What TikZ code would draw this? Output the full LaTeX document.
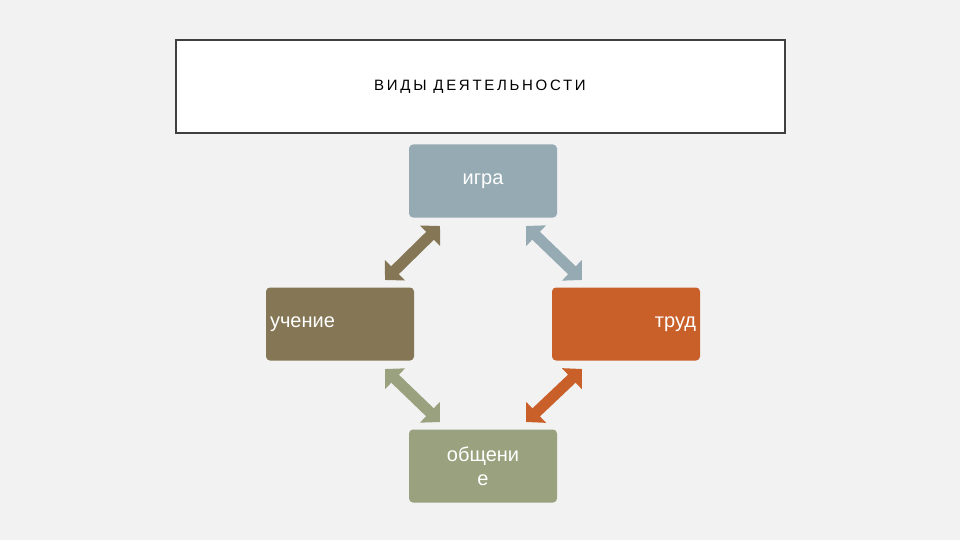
\documentclass[tikz,border=0pt]{standalone}
\usepackage{fontspec}
\setmainfont{Liberation Sans}
\usetikzlibrary{arrows.meta}
\definecolor{bg}{HTML}{F2F2F2}
\definecolor{cblue}{HTML}{95AAB3}
\definecolor{cbrown}{HTML}{857755}
\definecolor{corange}{HTML}{C9602A}
\definecolor{cgreen}{HTML}{9AA17E}
\begin{document}
\begin{tikzpicture}[x=1pt,y=-1pt,
  box/.style={rounded corners=4pt,minimum width=148pt,minimum height=73pt,inner sep=2pt,text=white,font=\fontsize{20}{24}\selectfont,align=center,text width=140pt},
  dbl/.style={line width=11pt,{Triangle[length=14pt,width=28pt]}-{Triangle[length=14pt,width=28pt]},shorten <=0pt,shorten >=0pt}]
\fill[bg] (0,0) rectangle (960,540);
\useasboundingbox (0,0) rectangle (960,540);
\node[draw=black!75,line width=2pt,fill=white,minimum width=609pt,minimum height=93pt] (title) at (480,87) {};
\node (tt) at (480,87) {\fontsize{15}{18}\selectfont\addfontfeature{LetterSpace=18}ВИДЫ ДЕЯТЕЛЬНОСТИ};
\node[box,fill=cblue] (igra) at (483,181) {игра};
\node[box,fill=cbrown,align=left] (uch) at (340,324) {учение};
\node[box,fill=corange,align=right] (trud) at (626,324) {труд};
\node[box,fill=cgreen] (obsh) at (483,466) {общени\\е};
\coordinate (a1) at (440,226); \coordinate (a2) at (385,280);
\coordinate (b1) at (526,226); \coordinate (b2) at (582,280);
\coordinate (c1) at (385,369); \coordinate (c2) at (440,422);
\coordinate (d1) at (582,369); \coordinate (d2) at (526,422);
\draw[dbl,draw=cbrown,fill=cbrown] (a1) -- (a2);
\draw[dbl,draw=cblue,fill=cblue] (b1) -- (b2);
\draw[dbl,draw=cgreen,fill=cgreen] (c1) -- (c2);
\draw[dbl,draw=corange,fill=corange] (d1) -- (d2);
\end{tikzpicture}
\end{document}
